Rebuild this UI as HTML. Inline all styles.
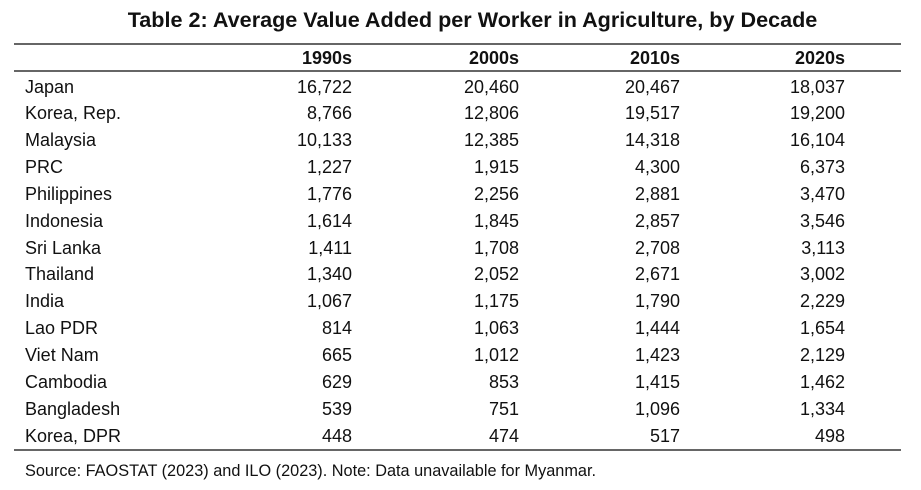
<!DOCTYPE html>
<html><head><style>
body{margin:0;width:921px;height:490px;background:#fff;font-family:"Liberation Sans",Arial,sans-serif;color:#111;position:relative;overflow:hidden}
.t{position:absolute;left:12px;width:921px;text-align:center;top:7px;font-size:21.6px;font-weight:bold;line-height:26px}
.l{position:absolute;left:14px;width:887px;border-top:2px solid #666}
.r{position:absolute;left:0;width:921px;height:27px;font-size:18px;line-height:27px}
.r span{position:absolute}
.n{left:25px}
.c1{right:569px}.c2{right:402px}.c3{right:241px}.c4{right:76px}
.h{font-weight:bold}
.s{position:absolute;left:25px;top:461px;font-size:16.3px;line-height:20px}
</style></head><body>
<div class="t">Table 2: Average Value Added per Worker in Agriculture, by Decade</div>
<div class="l" style="top:43px"></div>
<div class="r h" style="top:45px"><span class="c1">1990s</span><span class="c2">2000s</span><span class="c3">2010s</span><span class="c4">2020s</span></div>
<div class="l" style="top:70px"></div>
<div id="rows"></div>
<div class="l" style="top:449px"></div>
<div class="s">Source: FAOSTAT (2023) and ILO (2023). Note: Data unavailable for Myanmar.</div>
<script>
var d=[["Japan","16,722","20,460","20,467","18,037"],["Korea, Rep.","8,766","12,806","19,517","19,200"],["Malaysia","10,133","12,385","14,318","16,104"],["PRC","1,227","1,915","4,300","6,373"],["Philippines","1,776","2,256","2,881","3,470"],["Indonesia","1,614","1,845","2,857","3,546"],["Sri Lanka","1,411","1,708","2,708","3,113"],["Thailand","1,340","2,052","2,671","3,002"],["India","1,067","1,175","1,790","2,229"],["Lao PDR","814","1,063","1,444","1,654"],["Viet Nam","665","1,012","1,423","2,129"],["Cambodia","629","853","1,415","1,462"],["Bangladesh","539","751","1,096","1,334"],["Korea, DPR","448","474","517","498"]];
var h="";d.forEach(function(r,i){h+='<div class="r" style="top:'+(73.5+i*26.85)+'px"><span class="n">'+r[0]+'</span><span class="c1">'+r[1]+'</span><span class="c2">'+r[2]+'</span><span class="c3">'+r[3]+'</span><span class="c4">'+r[4]+'</span></div>';});
document.getElementById("rows").innerHTML=h;
</script>
</body></html>
